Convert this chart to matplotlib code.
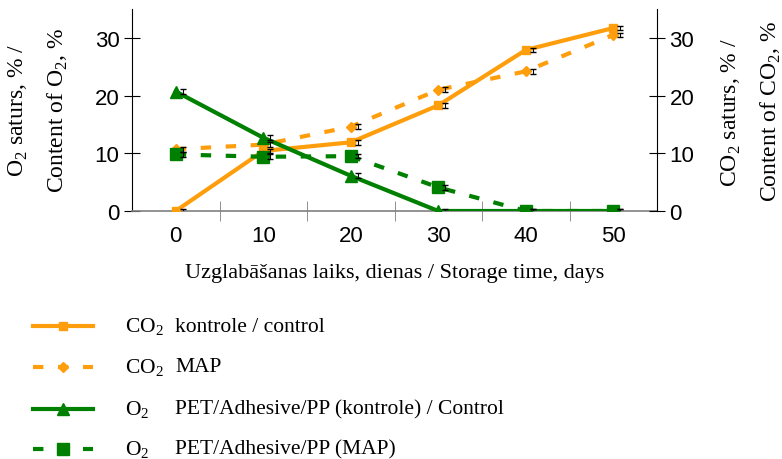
import numpy as np
import matplotlib
matplotlib.use("Agg")
import matplotlib.pyplot as plt
from matplotlib.lines import Line2D

plt.rcParams['font.family'] = 'Liberation Serif'
plt.rcParams['mathtext.fontset'] = 'custom'
plt.rcParams['mathtext.rm'] = 'Liberation Serif'

# storage days and measured gas contents (%)
days = ["0", "10", "20", "30", "40", "50"]
co2_control = [0.0, 10.4, 11.9, 18.3, 27.9, 31.7]
co2_map = [10.7, 11.5, 14.6, 21.0, 24.2, 30.5]
o2_control = [20.7, 12.7, 6.1, 0.0, 0.0, 0.0]
o2_map = [9.8, 9.4, 9.5, 4.1, 0.0, 0.0]
err = [0.4, 0.4, 0.4, 0.4, 0.4, 0.4]

orange = "#FF9E0D"
green = "#008000"

series = [
    (co2_control, orange, "-", "s", 6, r"CO$_\mathregular{2}$", "kontrole / control"),
    (co2_map, orange, (0, (2.5, 3.5)), "D", 5.5, r"CO$_\mathregular{2}$", "MAP"),
    (o2_control, green, "-", "^", 8, r"O$_\mathregular{2}$", "PET/Adhesive/PP (kontrole) / Control"),
    (o2_map, green, (0, (2.5, 3.5)), "s", 8, r"O$_\mathregular{2}$", "PET/Adhesive/PP (MAP)"),
]

fig = plt.figure(figsize=(7.82, 4.6), dpi=100)
ax = fig.add_axes([132/782, 1-212/460, 525/782, 202/460])
x = np.arange(len(days))

for vals, col, ls, mk, ms, _, _ in series:
    ax.errorbar(x + 0.08, vals, yerr=err, fmt="none", ecolor="black", elinewidth=0.8, capsize=2.5, zorder=4)
    ax.plot(x, vals, color=col, linestyle=ls, lw=3, marker=mk, markersize=ms, zorder=3)

tick_font = dict(fontfamily="Liberation Sans", fontsize=16)
ax.set_xlim(-0.5, 5.5)
ax.set_ylim(0, 35)
ax.set_xticks(x)
ax.set_xticklabels(days, **tick_font)
ax.set_xticks(np.arange(0.5, 5, 1), minor=True)
ax.tick_params(axis="x", which="major", length=0, pad=10)
ax.tick_params(axis="x", which="minor", length=14, direction="inout", color="#808080")
ax.set_yticks([0, 10, 20, 30])
ax.set_yticklabels(["0", "10", "20", "30"], **tick_font)
ax.tick_params(axis="y", length=12, direction="inout", pad=3)
ax.spines["top"].set_visible(False)
ax.spines["right"].set_visible(False)
ax.spines["bottom"].set_color("#808080")
ax.spines["bottom"].set_linewidth(1.2)
ax.set_xlabel("Uzglabāšanas laiks, dienas / Storage time, days", fontsize=16, labelpad=12)

ax2 = ax.twinx()
ax2.set_ylim(0, 35)
ax2.set_yticks([0, 10, 20, 30])
ax2.set_yticklabels(["0", "10", "20", "30"], **tick_font)
ax2.tick_params(axis="y", length=12, direction="inout", pad=3)
ax2.spines["top"].set_visible(False)
ax2.spines["left"].set_visible(False)
ax2.spines["bottom"].set_visible(False)

# axis titles (two lines each)
fig.text(18/782, 1-110/460, r"O$_\mathregular{2}$ saturs, % /", rotation=90, ha="center", va="center", fontsize=17)
fig.text(58/782, 1-110/460, r"Content of O$_\mathregular{2}$, %", rotation=90, ha="center", va="center", fontsize=17)
fig.text(731/782, 1-112/460, r"CO$_\mathregular{2}$ saturs, % /", rotation=90, ha="center", va="center", fontsize=17)
fig.text(771/782, 1-112/460, r"Content of CO$_\mathregular{2}$, %", rotation=90, ha="center", va="center", fontsize=17)

# legend drawn below the plot
rows = [327, 368, 410, 450]
for (vals, col, ls, mk, ms, gas, lab), ry in zip(series, rows):
    yy = 1 - ry/460
    fig.add_artist(Line2D([33/782, 93/782], [yy, yy], color=col, linestyle=ls, lw=3))
    fig.add_artist(Line2D([63/782], [yy], color=col, marker=mk, markersize=ms, lw=0))
    fig.text(125/782, yy, gas, ha="left", va="center", fontsize=15.5)
    fig.text(175/782, yy, lab, ha="left", va="center", fontsize=15.5)

fig.savefig("out.png", dpi=100)
